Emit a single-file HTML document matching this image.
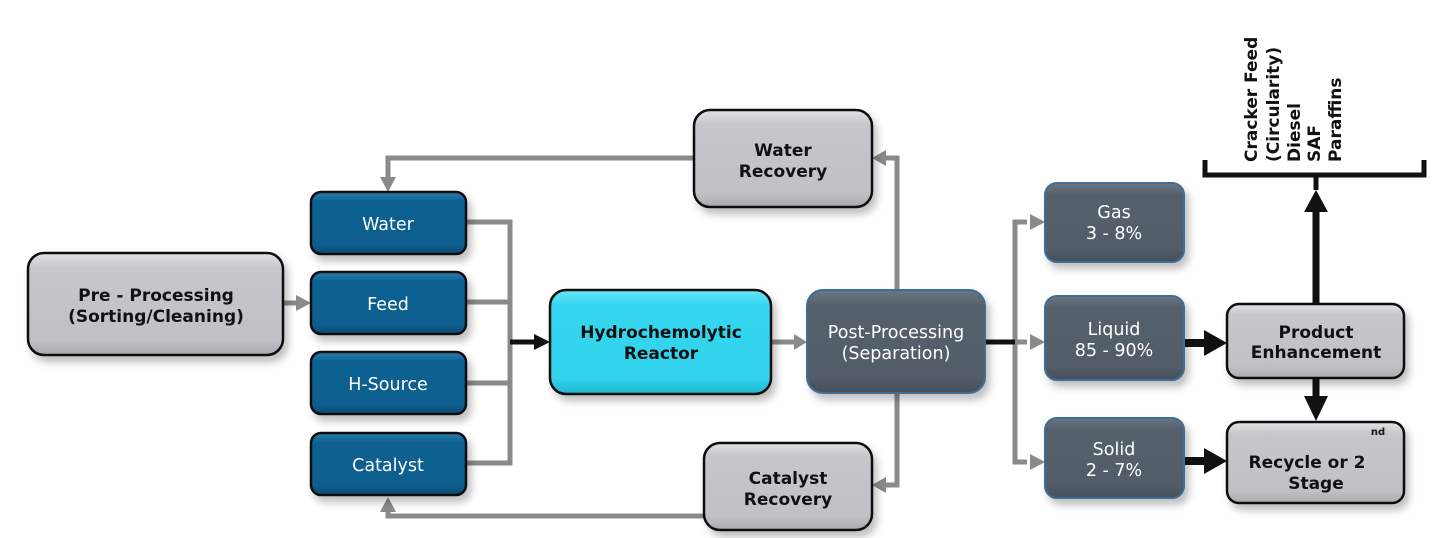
<!DOCTYPE html>
<html><head><meta charset="utf-8"><style>
html,body{margin:0;padding:0;background:#fff;}
svg{display:block;}
text{font-family:"DejaVu Sans","Liberation Sans",sans-serif;}
</style></head><body>
<svg width="1454" height="538" viewBox="0 0 1454 538" xmlns="http://www.w3.org/2000/svg">
<defs>
<linearGradient id="gg" x1="0" y1="0" x2="0" y2="1"><stop offset="0" stop-color="#e2e3e5"/><stop offset="0.15" stop-color="#c5c7ca"/><stop offset="0.85" stop-color="#bfc1c4"/><stop offset="1" stop-color="#a9abae"/></linearGradient>
<linearGradient id="bg" x1="0" y1="0" x2="0" y2="1"><stop offset="0" stop-color="#2a7fb0"/><stop offset="0.15" stop-color="#0d6193"/><stop offset="0.85" stop-color="#0c5d8d"/><stop offset="1" stop-color="#0a4b74"/></linearGradient>
<linearGradient id="cg" x1="0" y1="0" x2="0" y2="1"><stop offset="0" stop-color="#6ae6f8"/><stop offset="0.15" stop-color="#35d6f0"/><stop offset="0.85" stop-color="#30d2ec"/><stop offset="1" stop-color="#22b6cf"/></linearGradient>
<linearGradient id="dg" x1="0" y1="0" x2="0" y2="1"><stop offset="0" stop-color="#6c7680"/><stop offset="0.15" stop-color="#56606b"/><stop offset="0.85" stop-color="#525c67"/><stop offset="1" stop-color="#454e58"/></linearGradient>
<filter id="sh" x="-10%" y="-10%" width="130%" height="140%"><feDropShadow dx="4" dy="6" stdDeviation="4" flood-color="#000" flood-opacity="0.25"/></filter>
</defs>

<g stroke="#8a8a8a" stroke-width="5" fill="none">
<polyline points="466,222 510,222 510,463 466,463"/>
<line x1="466" y1="302" x2="510" y2="302"/>
<line x1="466" y1="383" x2="510" y2="383"/>
<line x1="283" y1="303" x2="296" y2="303"/>
<line x1="771" y1="342" x2="794" y2="342"/>
<polyline points="897,290 897,158 884,158"/>
<polyline points="897,393 897,485 884,485"/>
<polyline points="694,158 388,158 388,178"/>
<polyline points="704,516 388,516 388,510"/>
<polyline points="1027,222 1015,222 1015,462 1027,462"/>
<line x1="1015" y1="342" x2="1027" y2="342"/>
</g>
<g fill="#8a8a8a">
<polygon points="296,295 311,303 296,311"/>
<polygon points="794,334 807,342 794,350"/>
<polygon points="886,150 872,158 886,166"/>
<polygon points="886,477 872,485 886,493"/>
<polygon points="380,177 388,192 396,177"/>
<polygon points="380,512 388,497 396,512"/>
<polygon points="1030,214 1045,222 1030,230"/>
<polygon points="1030,334 1045,342 1030,350"/>
<polygon points="1030,454 1045,462 1030,470"/>
</g>
<g stroke="#111" fill="none">
<line x1="510" y1="342" x2="536" y2="342" stroke-width="5"/>
<line x1="985" y1="342" x2="1015" y2="342" stroke-width="5"/>
<line x1="1184" y1="343" x2="1206" y2="343" stroke-width="8"/>
<line x1="1184" y1="461" x2="1206" y2="461" stroke-width="8"/>
<line x1="1316" y1="304" x2="1316" y2="212" stroke-width="7"/>
<line x1="1316" y1="378" x2="1316" y2="398" stroke-width="7"/>
<polyline points="1205,160 1205,175 1424,175 1424,160" stroke-width="5"/>
<line x1="1316" y1="175" x2="1316" y2="190" stroke-width="5"/>
</g>
<g fill="#111">
<polygon points="534,334 550,342 534,350"/>
<polygon points="1204,330 1227,343 1204,356"/>
<polygon points="1204,448 1227,461 1204,474"/>
<polygon points="1304,212 1316,190 1328,212"/>
<polygon points="1304,396 1316,421 1328,396"/>
</g>

<g filter="url(#sh)">
<rect x="28" y="253" width="255" height="102" rx="16" fill="url(#gg)" stroke="#111" stroke-width="2.5"/>
<rect x="311" y="192" width="155" height="62" rx="10" fill="url(#bg)" stroke="#111" stroke-width="2.5"/>
<rect x="311" y="272" width="155" height="62" rx="10" fill="url(#bg)" stroke="#111" stroke-width="2.5"/>
<rect x="311" y="352" width="155" height="62" rx="10" fill="url(#bg)" stroke="#111" stroke-width="2.5"/>
<rect x="311" y="433" width="155" height="62" rx="10" fill="url(#bg)" stroke="#111" stroke-width="2.5"/>
<rect x="550" y="290" width="221" height="104" rx="16" fill="url(#cg)" stroke="#111" stroke-width="2.5"/>
<rect x="807" y="290" width="178" height="103" rx="16" fill="url(#dg)" stroke="#3a6e98" stroke-width="2"/>
<rect x="694" y="110" width="178" height="97" rx="16" fill="url(#gg)" stroke="#111" stroke-width="2.5"/>
<rect x="704" y="443" width="168" height="87" rx="16" fill="url(#gg)" stroke="#111" stroke-width="2.5"/>
<rect x="1045" y="183" width="139" height="79" rx="12" fill="url(#dg)" stroke="#3a6e98" stroke-width="2"/>
<rect x="1045" y="296" width="139" height="84" rx="12" fill="url(#dg)" stroke="#3a6e98" stroke-width="2"/>
<rect x="1045" y="418" width="139" height="80" rx="12" fill="url(#dg)" stroke="#3a6e98" stroke-width="2"/>
<rect x="1227" y="304" width="177" height="74" rx="12" fill="url(#gg)" stroke="#111" stroke-width="2.5"/>
<rect x="1227" y="422" width="177" height="81" rx="12" fill="url(#gg)" stroke="#111" stroke-width="2.5"/>
</g>

<g text-anchor="middle">
<g font-weight="bold" fill="#111" font-size="17">
<text x="156" y="301">Pre - Processing</text>
<text x="156" y="322">(Sorting/Cleaning)</text>
<text x="661" y="338">Hydrochemolytic</text>
<text x="661" y="359">Reactor</text>
<text x="783" y="156">Water</text>
<text x="783" y="177">Recovery</text>
<text x="788" y="484">Catalyst</text>
<text x="788" y="505">Recovery</text>
<text x="1316" y="338">Product</text>
<text x="1316" y="358">Enhancement</text>
<text x="1307" y="468">Recycle or 2</text>
<text x="1316" y="489">Stage</text>
<text x="1378" y="435" font-size="10">nd</text>
</g>
<g fill="#fff" font-size="17.5">
<text x="388" y="230">Water</text>
<text x="388" y="310">Feed</text>
<text x="388" y="390">H-Source</text>
<text x="388" y="471">Catalyst</text>
<text x="896" y="338">Post-Processing</text>
<text x="896" y="359">(Separation)</text>
<text x="1114" y="218">Gas</text>
<text x="1114" y="239">3 - 8%</text>
<text x="1114" y="335">Liquid</text>
<text x="1114" y="356">85 - 90%</text>
<text x="1114" y="455">Solid</text>
<text x="1114" y="476">2 - 7%</text>
</g>
</g>
<g font-size="17" font-weight="bold" fill="#111">
<text transform="translate(1257,162) rotate(-90)">Cracker Feed</text>
<text transform="translate(1279,162) rotate(-90)">(Circularity)</text>
<text transform="translate(1300,162) rotate(-90)">Diesel</text>
<text transform="translate(1320,162) rotate(-90)">SAF</text>
<text transform="translate(1341,162) rotate(-90)">Paraffins</text>
</g>
</svg>
</body></html>
